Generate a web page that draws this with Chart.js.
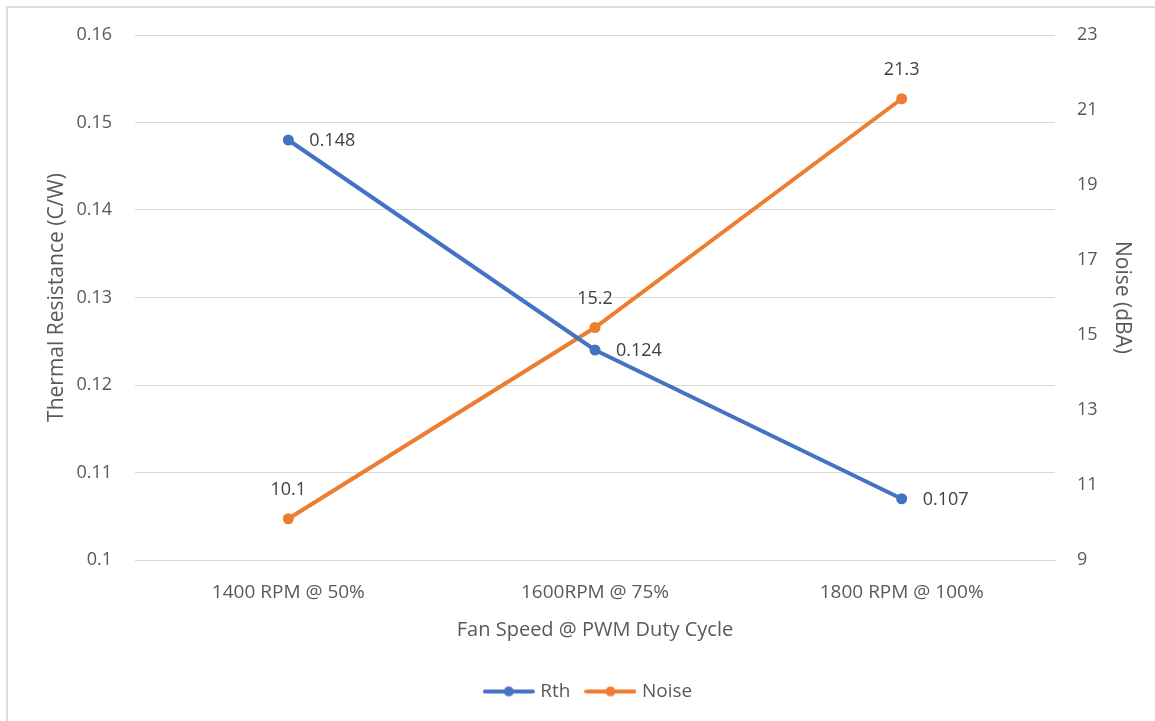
<!DOCTYPE html>
<html>
<head>
<meta charset="utf-8">
<script src="https://cdn.jsdelivr.net/npm/chart.js@4"></script>
<style>
  html, body { margin: 0; padding: 0; background: #fff; }
  #wrap {
    position: absolute; left: 6px; top: 6px;
    width: 1149px; height: 715px;
    border-left: 2px solid #dcdcdc; border-top: 2px solid #dcdcdc;
  }
  canvas { display: block; }
</style>
</head>
<body>
<div id="wrap"><canvas id="fanChart" width="1147" height="713"></canvas></div>
<script>
// categories + series
const fanSpeeds = ['1400 RPM @ 50%', '1600RPM @ 75%', '1800 RPM @ 100%'];
const rthValues = [0.148, 0.124, 0.107];
const noiseValues = [10.1, 15.2, 21.3];

const blue = '#4472C4';
const orange = '#ED7D31';
const textGrey = '#595959';
const fontFam = "'Open Sans', 'Noto Sans', sans-serif";

//little line+dot icon for the legend, like excel does it
function legendIcon(color) {
    const c = document.createElement('canvas');
    c.width = 52; c.height = 12;
    const g = c.getContext('2d');
    g.strokeStyle = color;
    g.lineWidth = 4;
    g.lineCap = 'round';
    g.beginPath();
    g.moveTo(2, 6); g.lineTo(50, 6);
    g.stroke();
    g.fillStyle = color;
    g.beginPath();
    g.arc(26, 6, 5, 0, Math.PI * 2);
    g.fill();
    return c;
}

//draws the value next to each point (no datalabels plugin offline)
const valueLabels = {
    id: 'valueLabels',
    afterDatasetsDraw(chart) {
        const ctx = chart.ctx;
        ctx.save();
        ctx.font = '18px ' + fontFam;
        ctx.fillStyle = '#404040';
        ctx.textBaseline = 'middle';
        chart.data.datasets.forEach((ds, i) => {
            const meta = chart.getDatasetMeta(i);
            meta.data.forEach((pt, j) => {
                const v = ds.data[j];
                if (ds.yAxisID === 'y') {
                    ctx.textAlign = 'left';
                    ctx.fillText(v.toFixed(3), pt.x + 21, pt.y + 1);
                } else {
                    ctx.textAlign = 'center';
                    ctx.fillText(v.toFixed(1), pt.x, pt.y - 29);
                }
            });
        });
        ctx.restore();
    }
};

//y axes: fixed width, and drop the half-label padding so the plot top is set by layout padding
function fixY(width) {
    return s => {
        s.width = width;
        s.paddingTop = 0;
        s.paddingBottom = 0;
    };
}

const ctx = document.getElementById('fanChart').getContext('2d');
const fanChart = new Chart(ctx, {
    type: 'line',
    data: {
        labels: fanSpeeds,
        datasets: [
            {
                label: 'Rth',
                data: rthValues,
                yAxisID: 'y',
                borderColor: blue,
                backgroundColor: blue,
                borderWidth: 4,
                pointRadius: 5.5,
                pointBackgroundColor: blue,
                pointBorderWidth: 0,
                tension: 0
            },
            {
                label: 'Noise',
                data: noiseValues,
                yAxisID: 'y1',
                borderColor: orange,
                backgroundColor: orange,
                borderWidth: 4,
                pointRadius: 5.5,
                pointBackgroundColor: orange,
                pointBorderWidth: 0,
                tension: 0
            }
        ]
    },
    options: {
        responsive: false,
        animation: false,
        layout: {
            padding: { top: 27, left: 32, right: 16, bottom: 10 }
        },
        scales: {
            x: {
                offset: true,
                grid: { display: false, drawTicks: false },
                border: { display: true, color: '#d9d9d9', width: 1 },
                ticks: { color: textGrey, font: { family: fontFam, size: 19 }, padding: 21 },
                title: {
                    display: true,
                    text: 'Fan Speed @ PWM Duty Cycle',
                    color: textGrey,
                    font: { family: fontFam, size: 20 },
                    padding: { top: 4, bottom: 22 }
                },
                afterFit: s => { s.height = 104; }
            },
            y: {
                position: 'left',
                min: 0.1,
                max: 0.16,
                ticks: {
                    stepSize: 0.01,
                    color: textGrey,
                    font: { family: fontFam, size: 18 },
                    padding: 23,
                    callback: v => String(+v.toFixed(2))
                },
                grid: { color: '#d9d9d9', drawTicks: false },
                border: { display: false },
                title: {
                    display: true,
                    text: 'Thermal Resistance (C/W)',
                    color: textGrey,
                    font: { family: fontFam, size: 21 }
                },
                afterFit: fixY(95)
            },
            y1: {
                position: 'right',
                min: 9,
                max: 23,
                ticks: {
                    stepSize: 2,
                    color: textGrey,
                    font: { family: fontFam, size: 18 },
                    padding: 22
                },
                grid: { display: false, drawTicks: false },
                border: { display: false },
                title: {
                    display: true,
                    text: 'Noise (dBA)',
                    color: textGrey,
                    font: { family: fontFam, size: 21 }
                },
                afterFit: fixY(84)
            }
        },
        plugins: {
            legend: {
                position: 'bottom',
                labels: {
                    usePointStyle: true,
                    pointStyleWidth: 44,
                    color: textGrey,
                    font: { family: fontFam, size: 19 },
                    padding: 18,
                    generateLabels: chart => chart.data.datasets.map((ds, i) => ({
                        text: ds.label,
                        pointStyle: legendIcon(ds.borderColor),
                        fontColor: textGrey,
                        datasetIndex: i,
                        lineWidth: 0
                    }))
                }
            },
            tooltip: { enabled: false }
        }
    },
    plugins: [valueLabels]
});
</script>
</body>
</html>
